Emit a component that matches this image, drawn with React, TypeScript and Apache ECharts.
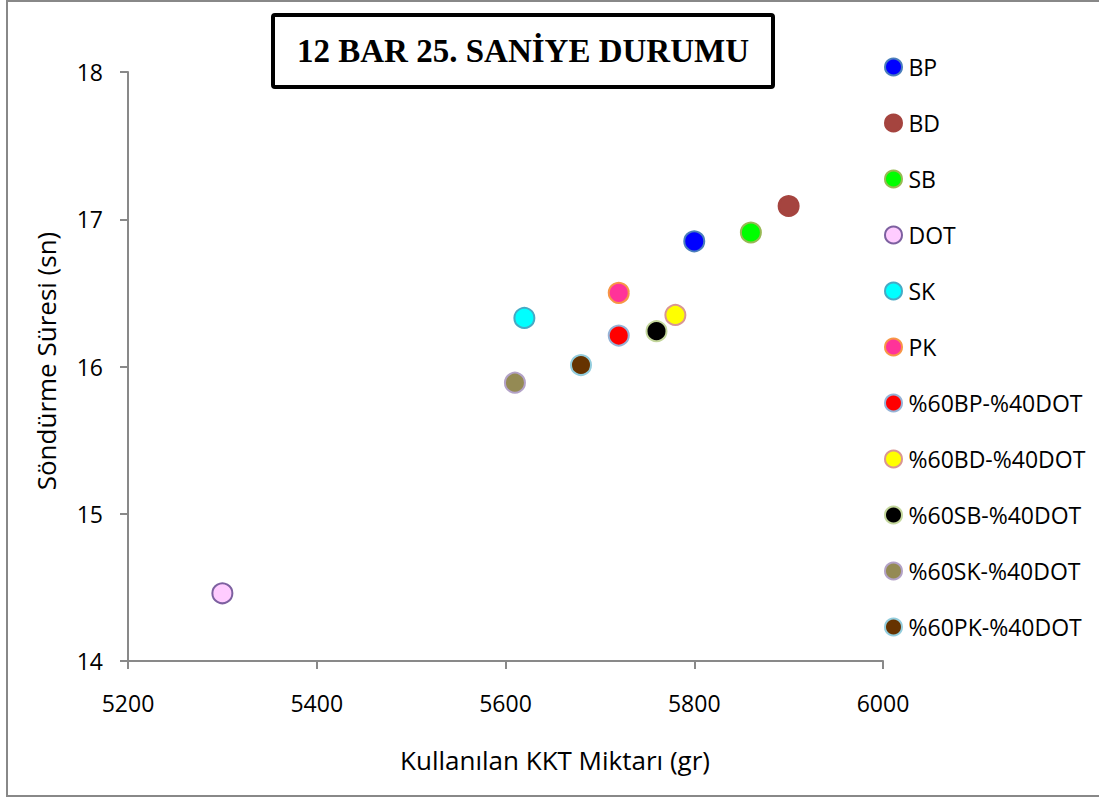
import React, { useEffect, useRef } from "react";
import * as echarts from "echarts";

const categories = [
  "BP",
  "BD",
  "SB",
  "DOT",
  "SK",
  "PK",
  "%60BP-%40DOT",
  "%60BD-%40DOT",
  "%60SB-%40DOT",
  "%60SK-%40DOT",
  "%60PK-%40DOT",
];
const kktValues = [5800, 5900, 5860, 5300, 5620, 5720, 5720, 5780, 5760, 5610, 5680];
const timeValues = [16.85, 17.09, 16.91, 14.46, 16.33, 16.5, 16.21, 16.35, 16.24, 15.89, 16.01];
const fillColors = [
  "#0000ff",
  "#a5443f",
  "#00ff00",
  "#ffccff",
  "#00ffff",
  "#ff3399",
  "#ff0000",
  "#ffff00",
  "#000000",
  "#948a54",
  "#663300",
];
const borderColors = [
  "#4a7ebb",
  "#a5443f",
  "#98b954",
  "#7d60a0",
  "#46aac5",
  "#f79646",
  "#95b3d7",
  "#d99694",
  "#c3d69b",
  "#b3a2c7",
  "#93cddd",
];
const xMin = 5200;
const xMax = 6000;
const xStep = 200;
const yMin = 14;
const yMax = 18;
const yStep = 1;
const chartTitle = "12 BAR 25. SANİYE DURUMU";
const xTitle = "Kullanılan KKT Miktarı (gr)";
const yTitle = "Söndürme Süresi (sn)";

const FONT = "'Open Sans', sans-serif";

export default function App() {
  const ref = useRef<HTMLDivElement>(null);

  useEffect(() => {
    if (!ref.current) return;
    const chart = echarts.init(ref.current, undefined, { renderer: "svg" });
    const series = categories.map((name, i) => ({
      name,
      type: "scatter",
      symbol: "circle",
      symbolSize: 20,
      data: [[kktValues[i], timeValues[i]]],
      itemStyle: {
        color: fillColors[i],
        borderColor: borderColors[i],
        borderWidth: 2,
        opacity: 1,
      },
    }));
    chart.setOption({
      animation: false,
      backgroundColor: "#ffffff",
      grid: { left: 128, right: 216, top: 72, bottom: 137, containLabel: false },
      xAxis: {
        type: "value",
        min: xMin,
        max: xMax,
        interval: xStep,
        splitLine: { show: false },
        axisLine: { show: true, onZero: false, lineStyle: { color: "#898989", width: 2 } },
        axisTick: { show: true, inside: false, length: 8, lineStyle: { color: "#898989", width: 2 } },
        axisLabel: {
          margin: 30,
          color: "#000",
          fontFamily: FONT,
          fontSize: 23,
          formatter: (v: number) => String(v),
        },
      },
      yAxis: {
        type: "value",
        min: yMin,
        max: yMax,
        interval: yStep,
        splitLine: { show: false },
        axisLine: { show: true, onZero: false, lineStyle: { color: "#898989", width: 2 } },
        axisTick: { show: true, inside: false, length: 8, lineStyle: { color: "#898989", width: 2 } },
        axisLabel: {
          margin: 25,
          color: "#000",
          fontFamily: FONT,
          fontSize: 23,
          formatter: (v: number) => String(v),
        },
      },
      legend: {
        orient: "vertical",
        left: 879,
        top: 50,
        itemWidth: 18,
        itemHeight: 17,
        itemGap: 32,
        icon: "circle",
        textStyle: { color: "#000", fontFamily: FONT, fontSize: 23, lineHeight: 24, padding: [0, 0, 0, 1] },
        data: categories,
      },
      graphic: [
        {
          type: "rect",
          shape: { x: 7, y: 1, width: 1100, height: 795 },
          style: { fill: "none", stroke: "#888888", lineWidth: 2 },
          silent: true,
        },
        {
          type: "rect",
          shape: { x: 273, y: 15, width: 500, height: 72, r: 2 },
          style: { fill: "#ffffff", stroke: "#000000", lineWidth: 4 },
        },
        {
          type: "text",
          x: 523,
          y: 51,
          style: {
            text: chartTitle,
            fontFamily: "'Liberation Serif', 'Times New Roman', serif",
            fontWeight: "bold",
            fontSize: 33,
            fill: "#000",
            align: "center",
            verticalAlign: "middle",
          },
        },
        {
          type: "text",
          x: 555,
          y: 760,
          style: {
            text: xTitle,
            fontFamily: FONT,
            fontSize: 26,
            fill: "#000",
            align: "center",
            verticalAlign: "middle",
          },
        },
        {
          type: "text",
          x: 46,
          y: 361,
          rotation: Math.PI / 2,
          style: {
            text: yTitle,
            fontFamily: FONT,
            fontSize: 26,
            fill: "#000",
            align: "center",
            verticalAlign: "middle",
          },
        },
      ],
      series,
    });
    return () => chart.dispose();
  }, []);

  return (
    <div
      ref={ref}
      style={{ position: "absolute", left: 0, top: 0, width: 1099, height: 798 }}
    />
  );
}
